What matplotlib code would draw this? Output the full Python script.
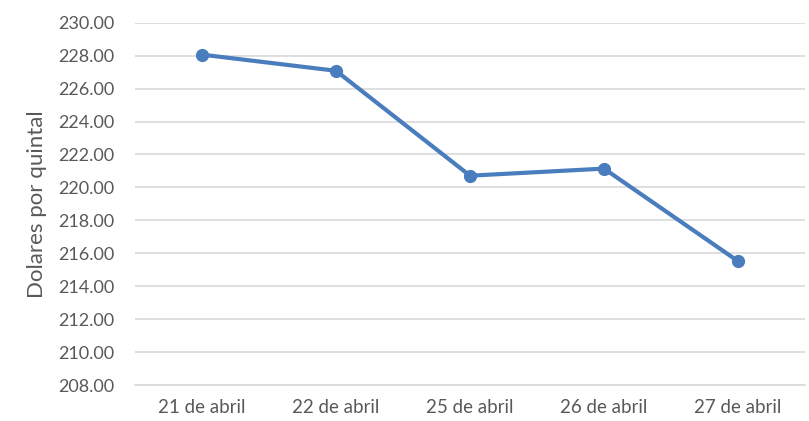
import matplotlib
matplotlib.use("Agg")
import matplotlib.pyplot as plt
import numpy as np

fechas = ["21 de abril", "22 de abril", "25 de abril", "26 de abril", "27 de abril"]
precios = [228.06, 227.08, 220.71, 221.14, 215.52]
ticks_y = [208, 210, 212, 214, 216, 218, 220, 222, 224, 226, 228, 230]

plt.rcParams["font.family"] = ["Lato", "DejaVu Sans"]

fig = plt.figure(figsize=(8.09, 4.21), dpi=100)
ax = fig.add_axes([135 / 809, 1 - 385 / 421, 670 / 809, (385 - 22.7) / 421])

x = np.arange(len(fechas))
ax.plot(x, precios, color="#4a7dbd", linewidth=3, marker="o", markersize=8.5,
        solid_capstyle="round", zorder=3)

ax.set_xlim(-0.5, len(fechas) - 0.5)
ax.set_ylim(208, 230)
ax.set_yticks(ticks_y)
ax.set_yticklabels([f"{v:.2f}" for v in ticks_y])
ax.set_xticks(x)
ax.set_xticklabels(fechas)

ax.grid(axis="y", color="#d9d9d9", linewidth=1.2)
ax.set_axisbelow(True)
for s in ["top", "right", "left"]:
    ax.spines[s].set_visible(False)
ax.spines["bottom"].set_color("#d9d9d9")
ax.spines["bottom"].set_linewidth(1.2)

ax.tick_params(axis="both", length=0, labelsize=13, colors="#595959")
ax.tick_params(axis="x", labelsize=13.5, pad=10)
ax.tick_params(axis="y", pad=15)

ax.set_ylabel("Dolares por quintal", fontsize=16, color="#595959", labelpad=8)

fig.savefig("out.png", dpi=100)
